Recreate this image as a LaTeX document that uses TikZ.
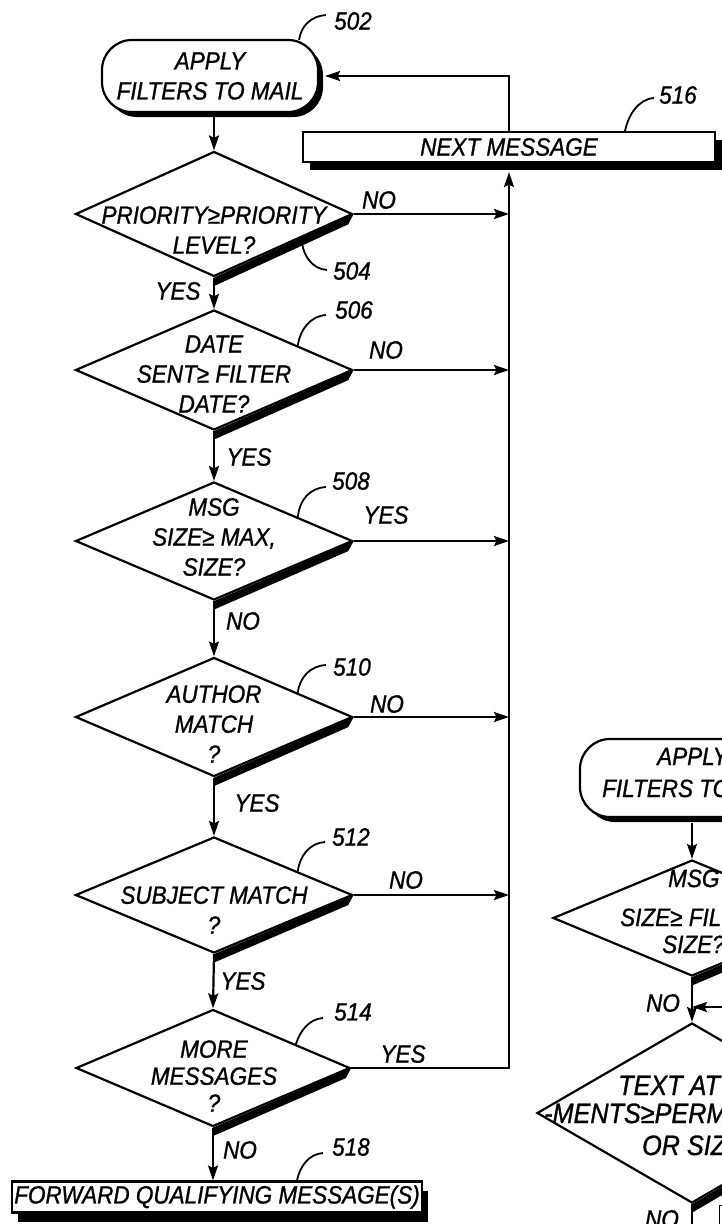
\documentclass[tikz,border=0pt]{standalone}
\usepackage{fontspec}
\setmainfont{Liberation Sans}[FakeStretch=0.9,FakeBold=1]
\usetikzlibrary{arrows.meta,shapes.geometric,shadows,calc}
\newcommand\thk[1]{\fill (#1.south) -- (#1.east) -- ($(#1.east)!0.06!(#1.south)+(3,6.5)$) -- ($(#1.south)+(1,8)$) -- cycle;}
\begin{document}
\begin{tikzpicture}[x=1pt,y=-1pt,
  txt/.style={font=\fontsize{25}{30}\selectfont\itshape, align=center, inner sep=0pt},
  btxt/.style={font=\fontsize{28}{30}\selectfont\itshape, inner sep=0pt, anchor=base west},
  ltxt/.style={txt, anchor=base west},
  dia/.style={diamond, draw, line width=2.2pt, inner sep=0pt, fill=white},
  term/.style={draw, line width=2.2pt, rectangle, rounded corners=30pt, fill=white,
    font=\fontsize{25}{30}\selectfont\itshape, align=center, inner sep=0pt,
    drop shadow={shadow xshift=5pt,shadow yshift=-5pt,fill=black,opacity=1}},
  box/.style={draw, line width=2.2pt, rectangle, fill=white, inner sep=0pt,
    font=\fontsize{25}{30}\selectfont\itshape},
  conn/.style={line width=2.2pt},
  arr/.style={line width=2.2pt, -{Stealth[length=15pt,width=10pt,inset=2.5pt]}},
  lead/.style={line width=1.8pt}
]
\useasboundingbox (0,0) rectangle (722,1224);
\clip (0,0) rectangle (722,1224);

% ---------------- left flow chart ----------------
\node[term, minimum width=216pt, minimum height=72pt] (t502) at (210,76) {APPLY\\FILTERS TO MAIL};

\node[box, minimum width=412pt, minimum height=30pt,
  drop shadow={shadow xshift=7pt,shadow yshift=-8pt,fill=black,opacity=1}] (n516) at (509,147) {NEXT MESSAGE};

\node[dia, minimum width=277pt, minimum height=125pt] (d504) at (214,214) {};
\node[txt] (d504t) at (214,230) {PRIORITY≥PRIORITY\\LEVEL?};
\thk{d504}

\node[dia, minimum width=277pt, minimum height=120pt] (d506) at (214,370) {};
\node[txt] (d506t) at (214,374) {DATE\\SENT≥ FILTER\\DATE?};
\thk{d506}

\node[dia, minimum width=277pt, minimum height=118pt] (d508) at (214,541) {};
\node[txt] (d508t) at (214,537) {MSG\\SIZE≥ MAX,\\SIZE?};
\thk{d508}

\node[dia, minimum width=277pt, minimum height=119pt] (d510) at (214,717) {};
\node[txt] (d510t) at (214,724) {AUTHOR\\MATCH\\?};
\thk{d510}

\node[dia, minimum width=277pt, minimum height=116pt] (d512) at (214,895) {};
\node[txt] (d512t) at (214,910) {SUBJECT MATCH\\?};
\thk{d512}

\node[dia, minimum width=274pt, minimum height=117pt] (d514) at (213,1068) {};
\node[txt, font=\fontsize{25}{27}\selectfont\itshape] (d514t) at (214,1076) {MORE\\MESSAGES\\?};
\thk{d514}

\node[box, minimum width=410pt, minimum height=31pt,
  drop shadow={shadow xshift=6pt,shadow yshift=-9pt,fill=black,opacity=1}] (n518) at (217,1197) {FORWARD QUALIFYING MESSAGE(S)};

% vertical flow
\draw[arr] (t502.south -| d504.north) -- (d504.north);
\draw[arr] (d504.south) -- (d506.north);
\draw[arr] (d506.south) -- (d508.north);
\draw[arr] (d508.south) -- (d510.north);
\draw[arr] (d510.south) -- (d512.north);
\draw[arr] (d512.south) -- (d514.north);
\draw[arr] (d514.south) -- (d514.south |- n518.north);

% return path
\coordinate (vbot) at (d514.east -| n516.south);
\draw[arr] (d514.east) -- (vbot) -- ($(n516.south)+(0,9)$);
\draw[arr] (d504.east) -- (d504.east -| vbot);
\draw[arr] (d506.east) -- (d506.east -| vbot);
\draw[arr] (d508.east) -- (d508.east -| vbot);
\draw[arr] (d510.east) -- (d510.east -| vbot);
\draw[arr] (d512.east) -- (d512.east -| vbot);
\draw[arr] (n516.north) -- (n516.north |- t502.east) -- ($(t502.east)+(6,0)$);

% branch labels
\node[txt] (y504) at (178,291) {YES};
\node[txt] (n504) at (379,200) {NO};
\node[txt] (y506) at (249,457) {YES};
\node[txt] (n506) at (386,350) {NO};
\node[txt] (n508) at (243,621) {NO};
\node[txt] (y508) at (386,515) {YES};
\node[txt] (y510) at (257,803) {YES};
\node[txt] (n510) at (387,704) {NO};
\node[txt] (y512) at (243,981) {YES};
\node[txt] (n512) at (406,880) {NO};
\node[txt] (n514) at (240,1150) {NO};
\node[txt] (y514) at (403,1054) {YES};

% reference numerals
\node[txt] (l502) at (353,21) {502};
\draw[lead] ($(t502.north east)+(-20,1)$) .. controls (301,26) and (311,16) .. (326,15);
\node[txt] (l504) at (352,271) {504};
\draw[lead] (302,243) .. controls (304,257) and (313,269) .. (327,270);
\node[txt] (l506) at (354,310) {506};
\draw[lead] ($(d506.north)!0.6!(d506.east)$) .. controls (300,330) and (310,316) .. (326,315);
\node[txt] (l508) at (351,481) {508};
\draw[lead] ($(d508.north)!0.6!(d508.east)$) .. controls (300,499) and (310,488) .. (326,487);
\node[txt] (l510) at (352,667) {510};
\draw[lead] ($(d510.north)!0.6!(d510.east)$) .. controls (300,677) and (310,666) .. (326,665);
\node[txt] (l512) at (351,837) {512};
\draw[lead] ($(d512.north)!0.6!(d512.east)$) .. controls (300,855) and (310,843) .. (325,842);
\node[txt] (l514) at (353,1012) {514};
\draw[lead] ($(d514.north)!0.6!(d514.east)$) .. controls (300,1031) and (309,1019) .. (323,1018);
\node[txt] (l516) at (678,95) {516};
\draw[lead] ($(n516.north)+(116,0)$) .. controls (628,116) and (638,99) .. (654,98);
\node[txt] (l518) at (351,1147) {518};
\draw[lead] ($(n518.north)+(80,0)$) .. controls (300,1166) and (309,1154) .. (323,1153);

% ---------------- right (partial) flow chart ----------------
\node[term, minimum width=230pt, minimum height=78pt] (t2) at (695,778) {};
\node[ltxt] (t2a) at (657,765) {APPLY};
\node[ltxt] (t2b) at (602,797) {FILTERS TO};

\node[dia, minimum width=278pt, minimum height=116pt] (dR1) at (692,918) {};
\node[ltxt] (dR1a) at (668,887) {MSG};
\node[ltxt] (dR1b) at (620,926) {SIZE≥ FIL};
\node[ltxt] (dR1c) at (662,953) {SIZE?};
\thk{dR1}

\node[dia, minimum width=310pt, minimum height=180pt] (dR2) at (692,1113) {};
\node[btxt] (dR2a) at (618,1095) {TEXT ATT};
\node[btxt] (dR2b) at (544,1123) {-MENTS≥PERM};
\node[btxt] (dR2c) at (642,1155) {OR SIZ};
\thk{dR2}

\draw[arr] (t2.south -| dR1.north) ++(0,5) -- (dR1.north);
\draw[arr] (dR1.south) -- (dR2.north);
\coordinate (rin) at (722,1007);
\draw[arr] (rin) -- (rin -| dR1.south);
\coordinate (rout) at (692,1224);
\draw[conn] (dR2.south) -- (rout);
\node[txt] (nR1) at (663,1003) {NO};
\node[txt] (nR2) at (662,1219) {NO};
\draw[line width=1pt] (722,1205) -- (719,1205) -- (719,1224);
\end{tikzpicture}
\end{document}
